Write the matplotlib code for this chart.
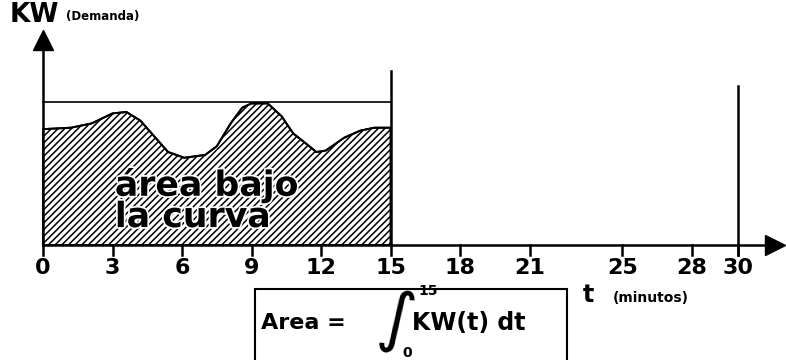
import matplotlib
matplotlib.use("Agg")
import matplotlib.pyplot as plt
import matplotlib.patheffects as pe
from matplotlib.patches import Rectangle

# demand curve (t in minutes, kW in arbitrary units, top line = 100)
t_min = [0.0, 1.2, 2.1, 3.0, 3.6, 4.2, 4.8, 5.4, 6.1, 7.0, 7.5, 8.1, 8.6, 9.0,
         9.7, 10.3, 10.8, 11.5, 11.8, 12.2, 13.0, 13.7, 14.3, 15.0]
kw = [81, 82, 85, 92, 93, 87, 76, 65, 61, 63, 69, 85, 96, 99,
      99, 90, 78, 69, 65, 66, 75, 80, 82, 82]
kw_max = 100
t_end = 15
t_total = 30

tick_values = [0, 3, 6, 9, 12, 15, 18, 21, 25, 28, 30]
tick_labels = ["0", "3", "6", "9", "12", "15", "18", "21", "25", "28", "30"]

plt.rcParams['hatch.linewidth'] = 1.1
plt.rcParams['font.family'] = ['DejaVu Sans']

fig = plt.figure(figsize=(7.86, 3.6), dpi=100)
ax = fig.add_axes([0, 0, 1, 1])
ax.set_xlim(-1.856, 32.07)
ax.set_ylim(-80.4, 171.3)
ax.axis('off')

# hatched area under the curve
ax.fill_between(t_min, 0, kw, facecolor='white', edgecolor='black',
                hatch='/////', linewidth=1.4)
ax.plot(t_min, kw, color='black', lw=1.4)

# max demand line and interval limits
ax.plot([0, t_end], [kw_max, kw_max], color='black', lw=1.2)
ax.plot([t_end, t_end], [0, 122], color='black', lw=1.8)
ax.plot([t_total, t_total], [-7, 111], color='black', lw=1.8)

# axes with arrows
ax.plot([0, 0], [0, 140], color='black', lw=1.8)
ax.plot([0], [143], marker='^', markersize=15, color='black')
ax.plot([0, 31.3], [0, 0], color='black', lw=1.8)
ax.plot([31.6], [0], marker='>', markersize=15, color='black')

# ticks
for tv, lab in zip(tick_values, tick_labels):
    ax.plot([tv, tv], [0, -7], color='black', lw=1.8)
    ax.text(tv, -16, lab, ha='center', va='center', fontsize=16,
            fontweight='heavy')

# labels
ax.text(-1.42, 161, "KW", ha='left', va='center', fontsize=19, fontweight='heavy')
ax.text(1.0, 160, "(Demanda)", ha='left', va='center', fontsize=8.5,
        fontweight='bold')
ax.text(23.3, -35, "t", ha='left', va='center', fontsize=17, fontweight='heavy')
ax.text(24.6, -37, "(minutos)", ha='left', va='center', fontsize=10,
        fontweight='bold')

ax.text(3.1, 31, "área bajo\nla curva", ha='left', va='center', fontsize=25,
        fontweight='heavy', linespacing=0.9,
        path_effects=[pe.withStroke(linewidth=2.5, foreground='white')])

# formula box
box = Rectangle((255 / 786, -0.01), 312 / 786, 75 / 360, transform=fig.transFigure,
                facecolor='white', edgecolor='black', lw=1.5, clip_on=False)
fig.patches.append(box)
fig.text(261 / 786, 37 / 360, "Area =", ha='left', va='center', fontsize=16,
         fontweight='heavy')
fig.text(396 / 786, 38 / 360, "∫", ha='center', va='center', fontsize=48,
         rotation=-10)
fig.text(412 / 786, 37 / 360, "KW(t) dt", ha='left', va='center', fontsize=17,
         fontweight='heavy')
fig.text(418 / 786, 69 / 360, "15", ha='left', va='center', fontsize=10,
         fontweight='heavy')
fig.text(402 / 786, 7 / 360, "0", ha='left', va='center', fontsize=10,
         fontweight='heavy')

fig.savefig("out.png", dpi=100)
